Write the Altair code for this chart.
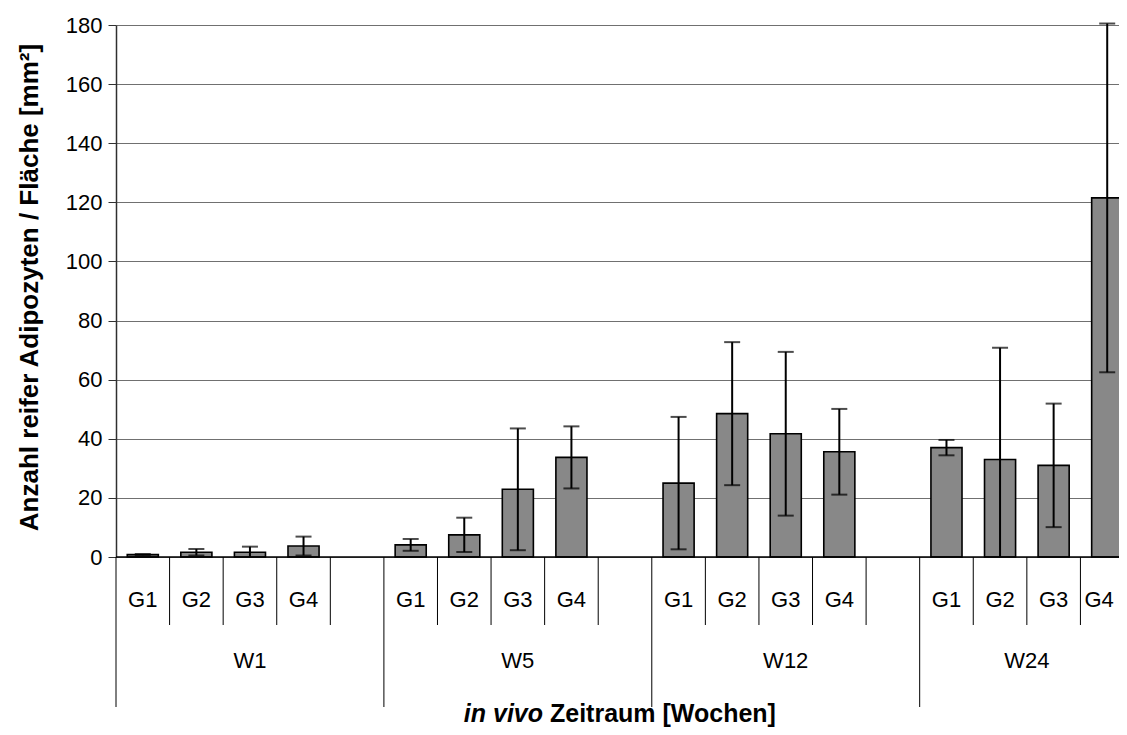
import altair as alt
import pandas as pd

# ---------------- data ----------------
weeks = ["W1", "W5", "W12", "W24"]
groups = ["G1", "G2", "G3", "G4"]
slots_per_week = [5, 5, 5, 4]

mean_w1 = [0.8, 1.6, 1.6, 3.7]
sd_w1 = [0.2, 1.1, 1.9, 3.2]
mean_w5 = [4.1, 7.5, 22.9, 33.7]
sd_w5 = [2.0, 5.8, 20.6, 10.5]
mean_w12 = [25.0, 48.5, 41.7, 35.6]
sd_w12 = [22.4, 24.2, 27.7, 14.5]
mean_w24 = [37.0, 33.0, 31.0, 121.5]
sd_w24 = [2.6, 37.8, 20.9, 59.0]

means = [mean_w1, mean_w5, mean_w12, mean_w24]
sds = [sd_w1, sd_w5, sd_w12, sd_w24]

y_ticks = [0, 20, 40, 60, 80, 100, 120, 140, 160, 180]

FONT = "Liberation Sans"

# ---------------- tables ----------------
rows = []
bounds = []
week_rows = []
start = 0
for wi, w in enumerate(weeks):
    for gi, g in enumerate(groups):
        rows.append({"week": w, "group": g, "slot": start + gi,
                     "mean": means[wi][gi], "sd": sds[wi][gi]})
    for k in range(slots_per_week[wi]):
        bounds.append({"pos": start + k, "kind": "long" if k == 0 else "short"})
    week_rows.append({"week": w, "mid": start + slots_per_week[wi] / 2})
    start += slots_per_week[wi]

df = pd.DataFrame(rows)
bdf = pd.DataFrame(bounds)
wdf = pd.DataFrame(week_rows)

W = 1003
H = 532
XMAX = 18.72
xscale = alt.Scale(domain=[0, XMAX], nice=False, zero=False)
yscale = alt.Scale(domain=[0, 180], nice=False)

base = alt.Chart(df).transform_calculate(
    center="datum.slot + 0.5",
    x0="datum.slot + 0.21",
    x1="datum.slot + 0.79",
    lo_raw="datum.mean - datum.sd",
    lo="max(datum.mean - datum.sd, 0)",
    hi="datum.mean + datum.sd",
    lx="min(datum.slot + 0.5, 18.35)",
)

bars = base.mark_bar(fill="#888888", stroke="black", strokeWidth=1.6).encode(
    x=alt.X("x0:Q", scale=xscale, axis=None),
    x2="x1:Q",
    y=alt.Y("mean:Q", scale=yscale,
            axis=alt.Axis(values=y_ticks, grid=True, gridColor="#707070", gridWidth=1,
                          domainColor="#303030", domainWidth=1.5, tickColor="#303030",
                          tickSize=8, tickWidth=1, labelFont=FONT, labelFontSize=22,
                          labelColor="black", labelPadding=6,
                          title="Anzahl reifer Adipozyten / Fläche [mm²]",
                          titleFont=FONT, titleFontSize=26, titleFontWeight="bold",
                          titleColor="black", titleX=-87, titleY=H / 2 - 4,
                          titleBaseline="middle", titleAngle=270)),
    y2=alt.datum(0),
)

err = base.mark_rule(color="black", strokeWidth=2).encode(
    x=alt.X("center:Q", scale=xscale, axis=None),
    y=alt.Y("lo:Q", scale=yscale),
    y2="hi:Q",
)
cap_hi = base.mark_tick(color="black", orient="horizontal", size=16, thickness=2).encode(
    x=alt.X("center:Q", scale=xscale, axis=None),
    y=alt.Y("hi:Q", scale=yscale),
)
cap_lo = base.transform_filter("datum.lo_raw > 0").mark_tick(
    color="black", orient="horizontal", size=16, thickness=2).encode(
    x=alt.X("center:Q", scale=xscale, axis=None),
    y=alt.Y("lo:Q", scale=yscale),
)

baseline = alt.Chart(pd.DataFrame({"v": [0]})).mark_rule(color="black", strokeWidth=1.5).encode(
    y=alt.Y("v:Q", scale=yscale)
)

short_lines = alt.Chart(bdf).transform_filter("datum.kind == 'short'").mark_rule(
    color="black", strokeWidth=1).encode(
    x=alt.X("pos:Q", scale=xscale, axis=None),
    y=alt.value(H), y2=alt.value(H + 68),
)
long_lines = alt.Chart(bdf).transform_filter("datum.kind == 'long'").mark_rule(
    color="black", strokeWidth=1).encode(
    x=alt.X("pos:Q", scale=xscale, axis=None),
    y=alt.value(H), y2=alt.value(H + 150),
)

g_labels = base.mark_text(font=FONT, fontSize=22, color="black", baseline="middle").encode(
    x=alt.X("lx:Q", scale=xscale, axis=None),
    y=alt.value(H + 43),
    text="group:N",
)
w_labels = alt.Chart(wdf).mark_text(font=FONT, fontSize=22, color="black", baseline="middle").encode(
    x=alt.X("mid:Q", scale=xscale, axis=None),
    y=alt.value(H + 104),
    text="week:N",
)

t1 = alt.Chart(pd.DataFrame({"t": ["in vivo"]})).mark_text(
    font=FONT, fontSize=25, fontWeight="bold", fontStyle="italic", color="black",
    align="right", baseline="middle").encode(
    x=alt.value(427), y=alt.value(H + 157), text="t:N")
t2 = alt.Chart(pd.DataFrame({"t": ["Zeitraum [Wochen]"]})).mark_text(
    font=FONT, fontSize=25, fontWeight="bold", color="black",
    align="left", baseline="middle").encode(
    x=alt.value(434), y=alt.value(H + 157), text="t:N")

chart = alt.layer(
    bars, err, cap_hi, cap_lo, baseline, short_lines, long_lines, g_labels, w_labels, t1, t2
).properties(
    width=W, height=H,
    padding={"left": 108, "top": 17, "right": 0, "bottom": 170},
    autosize=alt.AutoSizeParams(type="none"),
    background="white",
).configure_view(stroke=None)

chart.save("out.html", embed_options={"renderer": "svg", "actions": False})
